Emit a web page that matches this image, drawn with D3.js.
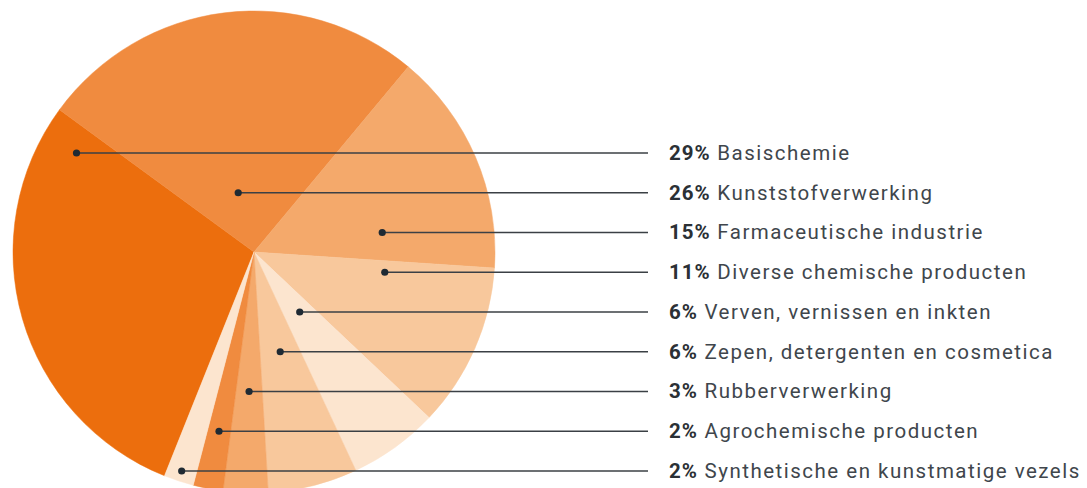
<!DOCTYPE html>
<meta charset="utf-8">
<html>

<head>
  <title>Chemie sectoren</title>
  <style>
    body { margin: 0; background: #fff; }
    svg { display: block; }
  </style>
</head>

<body>
  <script src="https://d3js.org/d3.v7.js"></script>

  <div id="my_dataviz"></div>

  <script>
    // data, in pie order (clockwise)
    var sectors = ["Basischemie", "Kunststofverwerking", "Farmaceutische industrie",
      "Diverse chemische producten", "Verven, vernissen en inkten",
      "Zepen, detergenten en cosmetica", "Rubberverwerking",
      "Agrochemische producten", "Synthetische en kunstmatige vezels"];
    var shares = [29, 26, 15, 11, 6, 6, 3, 2, 2];
    var colors = ["#ec6e0d", "#f08b3f", "#f4a96b", "#f8c89c", "#fce5cf",
      "#f8c89c", "#f4a96b", "#f08b3f", "#fce5cf"];

    var width = 1087, height = 488;
    var cx = 254, cy = 252, radius = 241;

    var svg = d3.select("#my_dataviz")
      .append("svg")
      .attr("width", width)
      .attr("height", height);

    var data = sectors.map(function (s, i) { return { name: s, value: shares[i], color: colors[i] }; });

    // first slice (Basischemie) starts lower left
    var start = 201.8 * Math.PI / 180;
    var pie = d3.pie()
      .sort(null)
      .value(function (d) { return d.value; })
      .startAngle(start)
      .endAngle(start + 2 * Math.PI);
    var arcs = pie(data);

    var arc = d3.arc().innerRadius(0).outerRadius(radius);

    var g = svg.append("g")
      .attr("transform", "translate(" + cx + "," + cy + ")");

    g.selectAll("path")
      .data(arcs)
      .enter()
      .append("path")
      .attr("d", arc)
      .attr("fill", function (d) { return d.data.color; })
      .attr("stroke", function (d) { return d.data.color; })
      .attr("stroke-width", 0.5);

    // rows for the labels
    var y = d3.scalePoint()
      .domain(sectors)
      .range([153, 471]);

    // x where a ray at angle a crosses the row (relative to center), or null
    function rayX(a, dy) {
      var sx = Math.sin(a), sy = -Math.cos(a);
      if (Math.abs(sy) < 1e-6) return null;
      var t = dy / sy;
      if (t <= 0) return null;
      var x = sx * t;
      if (x * x + dy * dy > radius * radius) return null;
      return x;
    }

    // dot sits in the middle of the row's chord through its slice
    function dotX(d) {
      var dy = y(d.data.name) - cy;
      var xs = [];
      [d.startAngle, d.endAngle].forEach(function (a) {
        var x = rayX(a, dy);
        if (x !== null) xs.push(x);
      });
      if (xs.length < 2) {
        var half = Math.sqrt(radius * radius - dy * dy);
        var mid = (d.startAngle + d.endAngle) / 2;
        xs.push(Math.sin(mid) > 0 ? half : -half);
      }
      return cx + (xs[0] + xs[1]) / 2;
    }

    var labels = svg.selectAll(".lbl")
      .data(arcs)
      .enter()
      .append("g")
      .attr("class", "lbl");

    labels.append("line")
      .attr("x1", function (d) { return dotX(d); })
      .attr("x2", 648)
      .attr("y1", function (d) { return y(d.data.name); })
      .attr("y2", function (d) { return y(d.data.name); })
      .attr("stroke", "#3b4045")
      .attr("stroke-width", 1.6);

    labels.append("circle")
      .attr("cx", function (d) { return dotX(d); })
      .attr("cy", function (d) { return y(d.data.name); })
      .attr("r", 3.6)
      .attr("fill", "#1f2a33");

    var txt = labels.append("text")
      .attr("x", 669)
      .attr("y", function (d) { return y(d.data.name); })
      .attr("dy", "0.33em")
      .style("font-family", "Roboto, 'Noto Sans', sans-serif")
      .style("font-size", "20.5px")
      .style("letter-spacing", "1.5px")
      .attr("fill", "#40464c");

    txt.append("tspan")
      .style("font-weight", "bold")
      .style("letter-spacing", "1px")
      .attr("fill", "#2b3035")
      .text(function (d) { return d.data.value + "%"; });

    txt.append("tspan")
      .text(function (d) { return " " + d.data.name; });
  </script>
</body>

</html>
